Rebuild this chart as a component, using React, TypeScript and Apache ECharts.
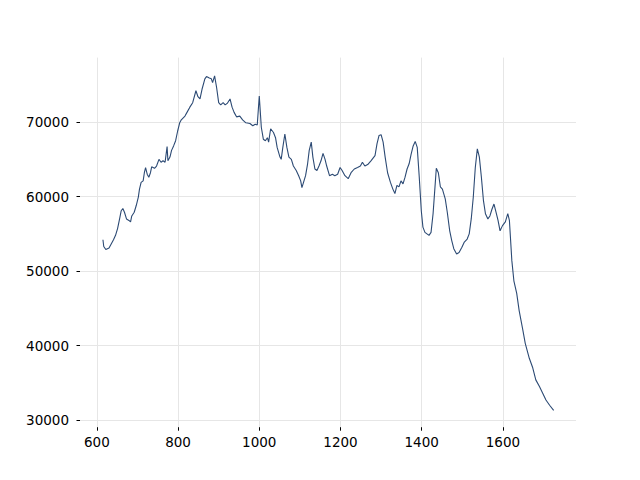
import React, { useEffect, useRef } from "react";
import * as echarts from "echarts";

const xValues: number[] = [
  615, 617, 622, 630, 636, 641, 646, 651, 656, 660, 664, 668, 673, 679, 683, 686, 692, 697, 702, 705,
  709, 714, 717, 720, 724, 728, 732, 735, 742, 747, 753, 758, 763, 768, 773, 775, 780, 784, 789, 794,
  799, 804, 808, 817, 822, 829, 836, 844, 849, 854, 859, 866, 870, 877, 882, 885, 890, 895, 900, 905,
  911, 916, 921, 928, 933, 938, 944, 952, 959, 967, 977, 984, 990, 995, 1000, 1005, 1010, 1015, 1020, 1023,
  1028, 1035, 1040, 1044, 1051, 1054, 1058, 1063, 1068, 1073, 1079, 1084, 1091, 1097, 1102, 1105, 1109, 1114, 1119, 1123,
  1128, 1132, 1137, 1142, 1147, 1152, 1157, 1162, 1166, 1173, 1180, 1186, 1193, 1199, 1204, 1211, 1219, 1226, 1234, 1242,
  1249, 1254, 1260, 1267, 1275, 1285, 1290, 1295, 1300, 1305, 1310, 1316, 1323, 1329, 1334, 1339, 1344, 1349, 1354, 1359,
  1364, 1369, 1374, 1379, 1384, 1389, 1394, 1399, 1403, 1408, 1413, 1418, 1423, 1428, 1433, 1436, 1441, 1446, 1451, 1458,
  1463, 1469, 1474, 1479, 1486, 1492, 1499, 1505, 1512, 1517, 1522, 1527, 1532, 1537, 1542, 1547, 1552, 1557, 1563, 1568,
  1573, 1578, 1583, 1588, 1593, 1599, 1606, 1612, 1616, 1619, 1622, 1627, 1634, 1640, 1649, 1655, 1665, 1673, 1681, 1690,
  1698, 1706, 1715, 1725,
];

const yValues: number[] = [
  54200, 53300, 52900, 53100, 53700, 54200, 54800, 55700, 57000, 58100, 58400, 57900, 57000, 56800, 56600, 57400, 57900, 58800, 59900, 61000,
  61900, 62100, 63200, 63900, 63000, 62600, 63200, 64000, 63800, 64100, 65000, 64600, 64800, 64600, 66700, 64800, 65300, 66200, 66800, 67500,
  68800, 69900, 70300, 70800, 71300, 72000, 72600, 74200, 73400, 73100, 74400, 75800, 76100, 75900, 75800, 75300, 76200, 74600, 72600, 72300,
  72600, 72300, 72500, 73100, 72000, 71300, 70700, 70800, 70300, 69900, 69800, 69500, 69700, 69600, 73500, 69300, 67700, 67500, 67900, 67300,
  69100, 68600, 67900, 66600, 65300, 65000, 66600, 68400, 66600, 65300, 65000, 64100, 63500, 62800, 62100, 61200, 61900, 62800, 64400, 66200,
  67300, 65300, 63700, 63500, 64100, 64800, 65800, 65000, 64100, 62800, 63000, 62800, 63000, 63900, 63500, 62800, 62400, 63200, 63700, 63900,
  64100, 64600, 64100, 64300, 64800, 65500, 67100, 68200, 68300, 67300, 65300, 63200, 61900, 61000, 60400, 61500, 61300, 62100, 61700, 62600,
  63700, 64400, 65700, 66800, 67400, 66600, 62600, 58100, 55900, 55200, 55000, 54800, 55200, 57700, 61500, 63800, 63200, 61300, 61000, 59700,
  57900, 55400, 54100, 53000, 52300, 52500, 53200, 53900, 54300, 55000, 57000, 59900, 63900, 66400, 65300, 62600, 59500, 57700, 57000, 57400,
  58300, 59000, 57900, 56800, 55400, 56100, 56600, 57700, 56800, 54100, 51400, 48700, 47000, 44700, 42100, 40300, 38300, 37100, 35400, 34500,
  33600, 32700, 32000, 31300,
];

const xTicks: number[] = [600, 800, 1000, 1200, 1400, 1600];
const yTicks: number[] = [30000, 40000, 50000, 60000, 70000];

export default function App() {
  const ref = useRef<HTMLDivElement>(null);
  useEffect(() => {
    if (!ref.current) return;
    const chart = echarts.init(ref.current, null, { renderer: "svg" });
    const data = xValues.map((x, i) => [x, yValues[i]]);
    const font = "DejaVu Sans";
    chart.setOption({
      animation: false,
      backgroundColor: "#ffffff",
      grid: { left: 80, right: 64, top: 57.6, bottom: 52.8, containLabel: false },
      xAxis: {
        type: "value",
        min: 558.5,
        max: 1780,
        axisLine: { show: false },
        axisTick: {
          show: true,
          customValues: xTicks,
          length: 3.5,
          lineStyle: { color: "#000", width: 1 },
        },
        axisLabel: {
          customValues: xTicks,
          margin: 8,
          color: "#000",
          fontSize: 13.5,
          fontFamily: font,
          formatter: (v: number) => String(v),
        },
        splitLine: { show: true, lineStyle: { color: "#e6e6e6", width: 1 } },
      },
      yAxis: {
        type: "value",
        min: 29050,
        max: 78650,
        axisLine: { show: false },
        axisTick: {
          show: true,
          customValues: yTicks,
          length: 3.5,
          lineStyle: { color: "#000", width: 1 },
        },
        axisLabel: {
          customValues: yTicks,
          margin: 11,
          color: "#000",
          fontSize: 13.5,
          fontFamily: font,
          formatter: (v: number) => String(v),
        },
        splitLine: { show: true, lineStyle: { color: "#e6e6e6", width: 1 } },
      },
      series: [
        {
          type: "line",
          data,
          showSymbol: false,
          symbol: "none",
          lineStyle: { color: "#2c4a74", width: 1.1 },
          itemStyle: { color: "#2c4a74" },
        },
      ],
    });
    return () => chart.dispose();
  }, []);
  return (
    <div
      ref={ref}
      style={{ position: "fixed", left: 0, top: 0, width: 640, height: 480 }}
    />
  );
}
